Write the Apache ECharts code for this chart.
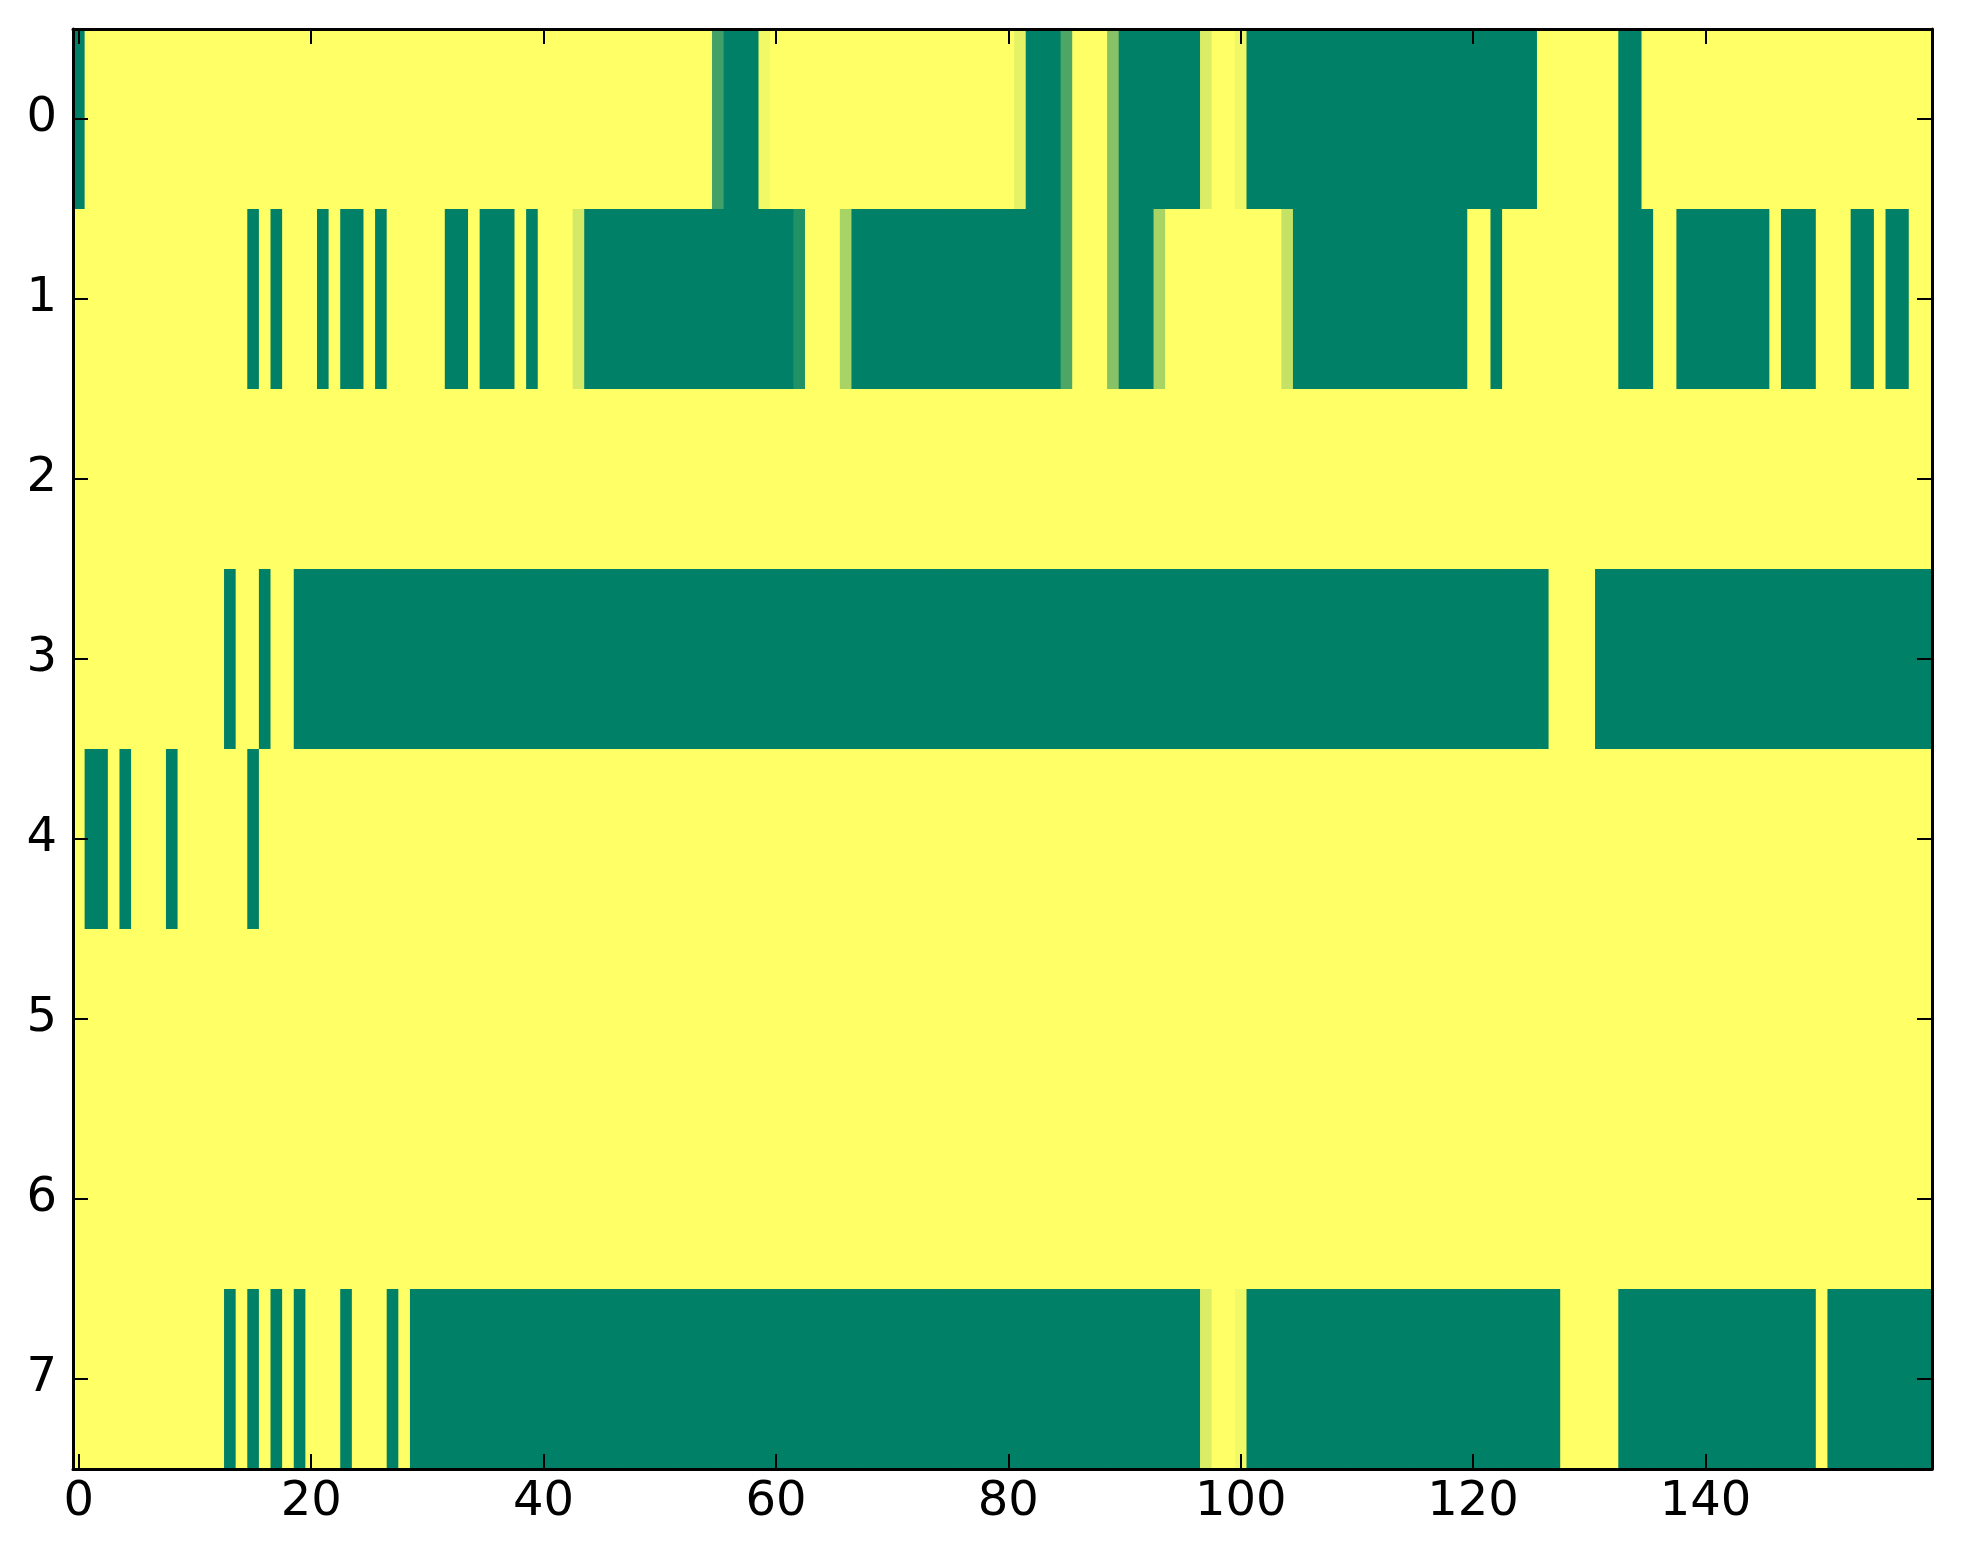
<!DOCTYPE html>
<html>
<head>
<meta charset="utf-8">
<script src="https://cdn.jsdelivr.net/npm/echarts@6/dist/echarts.min.js"></script>
<style>
html,body{margin:0;padding:0;background:#fff;}
#chart{width:1963px;height:1564px;}
</style>
</head>
<body>
<div id="chart"></div>
<script>
// Row labels (y categories), top to bottom
const rowLabels = ['0','1','2','3','4','5','6','7'];
// Column categories 0..159
const colLabels = [];
for (let i = 0; i < 160; i++) colLabels.push(String(i));

// Cell values per row (0 = yellow, 1 = green), 160 columns each
const row0 = [
  1,0,0,0,0,0,0,0,0,0,0,0,0,0,0,0,0,0,0,0,
  0,0,0,0,0,0,0,0,0,0,0,0,0,0,0,0,0,0,0,0,
  0,0,0,0,0,0,0,0,0,0,0,0,0,0,0,0.75,1,1,1,0.05,
  0,0,0,0,0,0,0,0,0,0,0,0,0,0,0,0,0,0,0,0,
  0,0.1,1,1,1,0.7,0,0,0,0.47,1,1,1,1,1,1,1,0.14,0,0,
  0.06,1,1,1,1,1,1,1,1,1,1,1,1,1,1,1,1,1,1,1,
  1,1,1,1,1,1,0,0,0,0,0,0,0,1,1,0,0,0,0,0,
  0,0,0,0,0,0,0,0,0,0,0,0,0,0,0,0,0,0,0,0
];
const row1 = [
  0,0,0,0,0,0,0,0,0,0,0,0,0,0,0,1,0,1,0,0,
  0,1,0,1,1,0,1,0,0,0,0,0,1,1,0,1,1,1,0,1,
  0,0,0,0.17,1,1,1,1,1,1,1,1,1,1,1,1,1,1,1,1,
  1,1,0.87,0,0,0,0.34,1,1,1,1,1,1,1,1,1,1,1,1,1,
  1,1,1,1,1,0.7,0,0,0,0.47,1,1,1,0.34,0,0,0,0,0,0,
  0,0,0,0,0.23,1,1,1,1,1,1,1,1,1,1,1,1,1,1,1,
  0,0,1,0,0,0,0,0,0,0,0,0,0,1,1,1,0,0,1,1,
  1,1,1,1,1,1,0,1,1,1,0,0,0,1,1,0,1,1,0,0
];
const row2 = [
  0,0,0,0,0,0,0,0,0,0,0,0,0,0,0,0,0,0,0,0,
  0,0,0,0,0,0,0,0,0,0,0,0,0,0,0,0,0,0,0,0,
  0,0,0,0,0,0,0,0,0,0,0,0,0,0,0,0,0,0,0,0,
  0,0,0,0,0,0,0,0,0,0,0,0,0,0,0,0,0,0,0,0,
  0,0,0,0,0,0,0,0,0,0,0,0,0,0,0,0,0,0,0,0,
  0,0,0,0,0,0,0,0,0,0,0,0,0,0,0,0,0,0,0,0,
  0,0,0,0,0,0,0,0,0,0,0,0,0,0,0,0,0,0,0,0,
  0,0,0,0,0,0,0,0,0,0,0,0,0,0,0,0,0,0,0,0
];
const row3 = [
  0,0,0,0,0,0,0,0,0,0,0,0,0,1,0,0,1,0,0,1,
  1,1,1,1,1,1,1,1,1,1,1,1,1,1,1,1,1,1,1,1,
  1,1,1,1,1,1,1,1,1,1,1,1,1,1,1,1,1,1,1,1,
  1,1,1,1,1,1,1,1,1,1,1,1,1,1,1,1,1,1,1,1,
  1,1,1,1,1,1,1,1,1,1,1,1,1,1,1,1,1,1,1,1,
  1,1,1,1,1,1,1,1,1,1,1,1,1,1,1,1,1,1,1,1,
  1,1,1,1,1,1,1,0,0,0,0,1,1,1,1,1,1,1,1,1,
  1,1,1,1,1,1,1,1,1,1,1,1,1,1,1,1,1,1,1,1
];
const row4 = [
  0,1,1,0,1,0,0,0,1,0,0,0,0,0,0,1,0,0,0,0,
  0,0,0,0,0,0,0,0,0,0,0,0,0,0,0,0,0,0,0,0,
  0,0,0,0,0,0,0,0,0,0,0,0,0,0,0,0,0,0,0,0,
  0,0,0,0,0,0,0,0,0,0,0,0,0,0,0,0,0,0,0,0,
  0,0,0,0,0,0,0,0,0,0,0,0,0,0,0,0,0,0,0,0,
  0,0,0,0,0,0,0,0,0,0,0,0,0,0,0,0,0,0,0,0,
  0,0,0,0,0,0,0,0,0,0,0,0,0,0,0,0,0,0,0,0,
  0,0,0,0,0,0,0,0,0,0,0,0,0,0,0,0,0,0,0,0
];
const row5 = [
  0,0,0,0,0,0,0,0,0,0,0,0,0,0,0,0,0,0,0,0,
  0,0,0,0,0,0,0,0,0,0,0,0,0,0,0,0,0,0,0,0,
  0,0,0,0,0,0,0,0,0,0,0,0,0,0,0,0,0,0,0,0,
  0,0,0,0,0,0,0,0,0,0,0,0,0,0,0,0,0,0,0,0,
  0,0,0,0,0,0,0,0,0,0,0,0,0,0,0,0,0,0,0,0,
  0,0,0,0,0,0,0,0,0,0,0,0,0,0,0,0,0,0,0,0,
  0,0,0,0,0,0,0,0,0,0,0,0,0,0,0,0,0,0,0,0,
  0,0,0,0,0,0,0,0,0,0,0,0,0,0,0,0,0,0,0,0
];
const row6 = [
  0,0,0,0,0,0,0,0,0,0,0,0,0,0,0,0,0,0,0,0,
  0,0,0,0,0,0,0,0,0,0,0,0,0,0,0,0,0,0,0,0,
  0,0,0,0,0,0,0,0,0,0,0,0,0,0,0,0,0,0,0,0,
  0,0,0,0,0,0,0,0,0,0,0,0,0,0,0,0,0,0,0,0,
  0,0,0,0,0,0,0,0,0,0,0,0,0,0,0,0,0,0,0,0,
  0,0,0,0,0,0,0,0,0,0,0,0,0,0,0,0,0,0,0,0,
  0,0,0,0,0,0,0,0,0,0,0,0,0,0,0,0,0,0,0,0,
  0,0,0,0,0,0,0,0,0,0,0,0,0,0,0,0,0,0,0,0
];
const row7 = [
  0,0,0,0,0,0,0,0,0,0,0,0,0,1,0,1,0,1,0,1,
  0,0,0,1,0,0,0,1,0,1,1,1,1,1,1,1,1,1,1,1,
  1,1,1,1,1,1,1,1,1,1,1,1,1,1,1,1,1,1,1,1,
  1,1,1,1,1,1,1,1,1,1,1,1,1,1,1,1,1,1,1,1,
  1,1,1,1,1,1,1,1,1,1,1,1,1,1,1,1,1,0.14,0,0,
  0.05,1,1,1,1,1,1,1,1,1,1,1,1,1,1,1,1,1,1,1,
  1,1,1,1,1,1,1,1,0,0,0,0,0,1,1,1,1,1,1,1,
  1,1,1,1,1,1,1,1,1,1,0,1,1,1,1,1,1,1,1,1
];
const rows = [row0,row1,row2,row3,row4,row5,row6,row7];

const cells = [];
rows.forEach(function (r, yi) {
  r.forEach(function (v, xi) { cells.push([xi, yi, v]); });
});

const FONT = 'DejaVu Sans';
const every20 = function (i) { return i % 20 === 0; };
const lineStyle = { color: '#000', width: 3 };
const tickStyle = { color: '#000', width: 2 };

const chart = echarts.init(document.getElementById('chart'), null, { renderer: 'canvas' });
chart.setOption({
  backgroundColor: '#ffffff',
  animation: false,
  grid: { left: 73, top: 29, width: 1859, height: 1440, containLabel: false },
  xAxis: [
    {
      type: 'category', data: colLabels, position: 'bottom', z: 10,
      axisLine: { show: true, lineStyle: lineStyle },
      axisTick: { show: true, inside: true, length: 15, alignWithLabel: true, interval: every20, lineStyle: tickStyle },
      axisLabel: { show: true, interval: every20, fontSize: 48, fontFamily: FONT, color: '#000', margin: 10 },
      splitLine: { show: false }
    },
    {
      type: 'category', data: colLabels, position: 'top', z: 10,
      axisLine: { show: true, lineStyle: lineStyle },
      axisTick: { show: true, inside: true, length: 15, alignWithLabel: true, interval: every20, lineStyle: tickStyle },
      axisLabel: { show: false },
      splitLine: { show: false }
    }
  ],
  yAxis: [
    {
      type: 'category', data: rowLabels, inverse: true, position: 'left', z: 10,
      axisLine: { show: true, lineStyle: lineStyle },
      axisTick: { show: true, inside: true, length: 15, alignWithLabel: true, interval: 0, lineStyle: tickStyle },
      axisLabel: { show: true, interval: 0, fontSize: 48, fontFamily: FONT, color: '#000', margin: 16 },
      splitLine: { show: false }
    },
    {
      type: 'category', data: rowLabels, inverse: true, position: 'right', z: 10,
      axisLine: { show: true, lineStyle: lineStyle },
      axisTick: { show: true, inside: true, length: 15, alignWithLabel: true, interval: 0, lineStyle: tickStyle },
      axisLabel: { show: false },
      splitLine: { show: false }
    }
  ],
  visualMap: {
    show: false, type: 'continuous', min: 0, max: 1, dimension: 2, seriesIndex: 0,
    inRange: { color: ['#ffff66', '#008066'] }
  },
  series: [{
    type: 'custom', xAxisIndex: 0, yAxisIndex: 0, data: cells,
    encode: { x: 0, y: 1 },
    renderItem: function (params, api) {
      const p = api.coord([api.value(0), api.value(1)]);
      const s = api.size([1, 1]);
      return {
        type: 'rect',
        shape: { x: p[0] - s[0] / 2, y: p[1] - s[1] / 2, width: s[0] + 0.8, height: s[1] + 0.8 },
        style: { fill: api.visual('color') }
      };
    },
    emphasis: { disabled: true },
    silent: true
  }]
});
</script>
</body>
</html>
